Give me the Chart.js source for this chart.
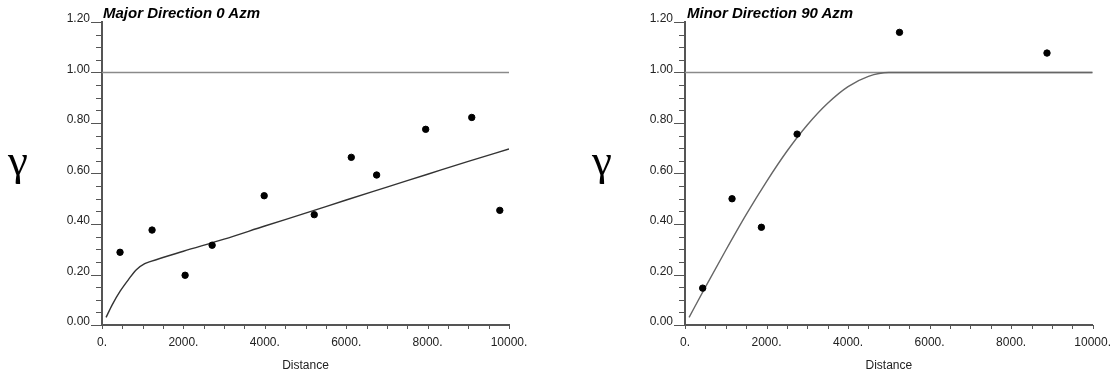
<!DOCTYPE html>
<html>
<head>
<meta charset="utf-8">
<script src="https://cdn.jsdelivr.net/npm/chart.js@4.4.1/dist/chart.umd.min.js"></script>
<style>
    body { margin: 0; background: #fff; overflow: hidden; }
    #wrap { position: relative; width: 1116px; height: 375px; overflow: hidden; }
    .box { position: absolute; top: 0; height: 375px; }
    .gamma { position: absolute; font-family: "Liberation Serif", serif; font-size: 45px; line-height: 1; color: #000; }
    .title { position: absolute; font-family: "Liberation Sans", Arial, sans-serif; font-size: 15px; font-weight: bold; font-style: italic; line-height: 1; color: #000; }
</style>
</head>
<body>
<div id="wrap">
    <div class="box" style="left:0;width:558px"><canvas id="majorChart" width="558" height="375"></canvas></div>
    <div class="box" style="left:558px;width:563px"><canvas id="minorChart" width="563" height="375"></canvas></div>
    <div class="gamma" style="left:8px;top:138px">γ</div>
    <div class="gamma" style="left:592px;top:138px">γ</div>
    <div class="title" style="left:103px;top:5px">Major Direction 0 Azm</div>
    <div class="title" style="left:687px;top:5px">Minor Direction 90 Azm</div>
</div>
<script>
// tick labels
const xMajorTicks = [0, 2000, 4000, 6000, 8000, 10000];
const yMajorTicks = [0, 0.2, 0.4, 0.6, 0.8, 1.0, 1.2];

// sill line
const sillX = [0, 10000];
const sillY = [1.0, 1.0];

// major direction: experimental points
const majorLagX = [443, 1230, 2042, 2706, 3985, 5215, 6125, 6748, 7953, 9085, 9774];
const majorGamma = [0.288, 0.376, 0.197, 0.316, 0.512, 0.437, 0.664, 0.594, 0.775, 0.822, 0.454];
// major direction: model curve
const majorModelX = [100, 250, 450, 650, 850, 1050, 1200, 2000, 3000, 4000, 5000, 6000, 7000, 8000, 9000, 10000];
const majorModelY = [0.03, 0.08, 0.135, 0.18, 0.22, 0.243, 0.252, 0.292, 0.34, 0.392, 0.443, 0.495, 0.546, 0.597, 0.648, 0.697];

// minor direction: experimental points
const minorLagX = [434, 1154, 1874, 2750, 5262, 8880];
const minorGamma = [0.146, 0.50, 0.387, 0.756, 1.159, 1.077];
// minor direction: model curve
const minorModelX = [100, 500, 1000, 1500, 2000, 2500, 3000, 3500, 4000, 4500, 5000, 10000];
const minorModelY = [0.03, 0.15, 0.296, 0.437, 0.568, 0.688, 0.792, 0.878, 0.944, 0.985, 1.0, 1.0];

const toPoints = (xs, ys) => xs.map((x, i) => ({ x: x, y: ys[i] }));

// minor/major tick marks drawn through the chart's own scales
const tickMarks = {
    id: "tickMarks",
    afterDraw(chart) {
        const ctx = chart.ctx;
        const xs = chart.scales.x;
        const ys = chart.scales.y;
        const left = chart.chartArea.left;
        const bottom = chart.chartArea.bottom;
        ctx.save();
        ctx.strokeStyle = "#555";
        ctx.lineWidth = 1;
        ctx.beginPath();
        for (let i = 0; i <= 24; i++) {
            const py = Math.round(ys.getPixelForValue(i * 0.05)) + 0.5;
            const len = i % 4 === 0 ? 11 : 6;
            ctx.moveTo(left - len, py);
            ctx.lineTo(left, py);
        }
        for (let i = 0; i <= 20; i++) {
            const px = Math.round(xs.getPixelForValue(i * 500)) + 0.5;
            ctx.moveTo(px, bottom);
            ctx.lineTo(px, bottom + 4);
        }
        ctx.stroke();
        ctx.restore();
    }
};

const labelFont = { family: "'Liberation Sans', Arial, sans-serif", size: 12 };

const makeChart = (id, lagX, gamma, modelX, modelY, modelColor, padLeft, padRight) => {
    const ctx = document.getElementById(id).getContext("2d");
    return new Chart(ctx, {
        type: "scatter",
        data: {
            datasets: [
                {
                    label: "experimental",
                    data: toPoints(lagX, gamma),
                    backgroundColor: "#000",
                    borderColor: "#000",
                    pointRadius: 3.2,
                    order: 0,
                },
                {
                    label: "model",
                    data: toPoints(modelX, modelY),
                    showLine: true,
                    borderColor: modelColor,
                    borderWidth: 1.4,
                    pointRadius: 0,
                    cubicInterpolationMode: "monotone",
                    order: 1,
                },
                {
                    label: "sill",
                    data: toPoints(sillX, sillY),
                    showLine: true,
                    borderColor: "#8a8a8a",
                    borderWidth: 1.5,
                    pointRadius: 0,
                    order: 2,
                },
            ],
        },
        options: {
            responsive: false,
            animation: false,
            layout: { padding: { left: padLeft, right: padRight, top: 22, bottom: 0 } },
            plugins: {
                legend: { display: false },
                tooltip: { enabled: false },
            },
            scales: {
                x: {
                    type: "linear",
                    min: 0,
                    max: 10000,
                    afterFit: (scale) => { scale.height = 50; },
                    grid: { display: false, drawTicks: false },
                    border: { display: true, color: "#555", width: 2 },
                    ticks: {
                        stepSize: 500,
                        autoSkip: false,
                        maxRotation: 0,
                        padding: 10,
                        color: "#222",
                        font: labelFont,
                        callback: (v) => xMajorTicks.includes(v) ? v + "." : "",
                    },
                    title: {
                        display: true,
                        text: "Distance",
                        color: "#222",
                        font: labelFont,
                        padding: { top: 0, bottom: 2 },
                    },
                },
                y: {
                    min: 0,
                    max: 1.2,
                    afterFit: (scale) => { scale.width = 62; },
                    grid: { display: false, drawTicks: false },
                    border: { display: true, color: "#555", width: 2 },
                    ticks: {
                        stepSize: 0.2,
                        autoSkip: false,
                        padding: 12,
                        labelOffset: -3,
                        color: "#222",
                        font: labelFont,
                        callback: (v) => yMajorTicks.some((t) => Math.abs(t - v) < 1e-6) ? v.toFixed(2) : "",
                    },
                },
            },
        },
        plugins: [tickMarks],
    });
};

makeChart("majorChart", majorLagX, majorGamma, majorModelX, majorModelY, "#333", 40, 49);
makeChart("minorChart", minorLagX, minorGamma, minorModelX, minorModelY, "#666", 65, 20);
</script>
</body>
</html>
